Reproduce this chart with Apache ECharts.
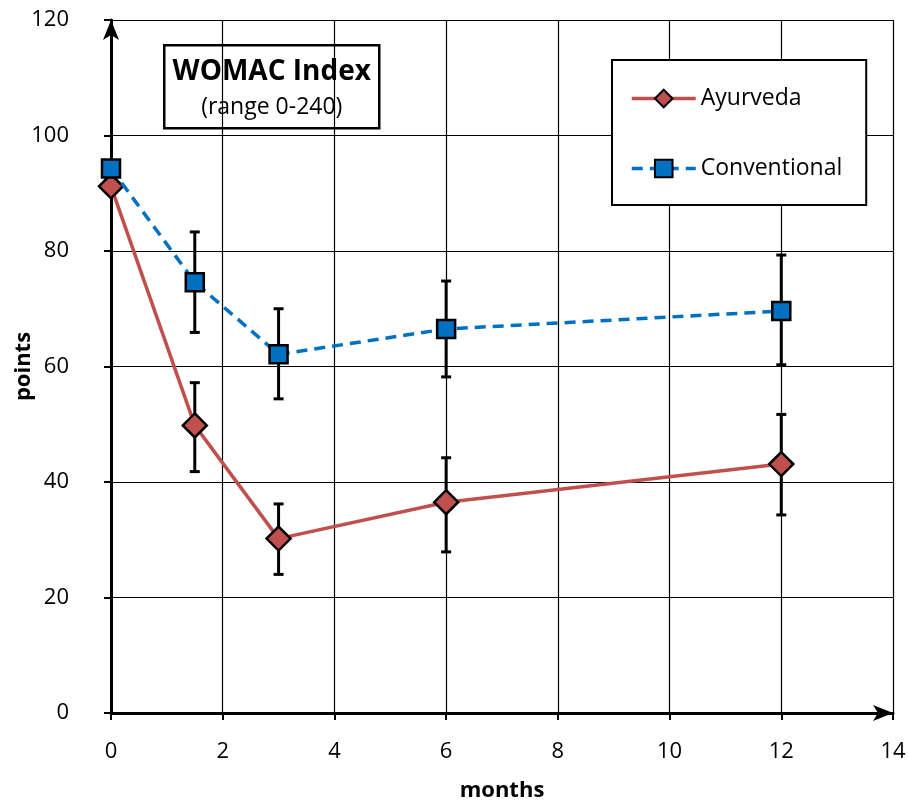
<!DOCTYPE html>
<html>
<head>
<meta charset="utf-8">
<script src="https://cdn.jsdelivr.net/npm/echarts@6/dist/echarts.min.js"></script>
<style>
html,body{margin:0;padding:0;background:#fff;}
#chart{width:908px;height:802px;}
</style>
</head>
<body>
<div id="chart"></div>
<script>
const months = [0, 1.5, 3, 6, 12];
const ayurveda = [91.2, 49.8, 30.2, 36.5, 43.1];
const ayurvedaLow = [null, 41.8, 24.0, 27.9, 34.3];
const ayurvedaHigh = [null, 57.2, 36.2, 44.2, 51.7];
const conventional = [94.3, 74.6, 62.1, 66.5, 69.6];
const conventionalLow = [null, 65.9, 54.4, 58.2, 60.3];
const conventionalHigh = [null, 83.3, 70.0, 74.8, 79.3];
const xTicks = [0, 2, 4, 6, 8, 10, 12, 14];
const yTicks = [0, 20, 40, 60, 80, 100, 120];
const seriesNames = ['Ayurveda', 'Conventional'];
const titleLines = ['WOMAC Index', '(range 0-240)'];

const FONT = "'Open Sans', sans-serif";

function pairs(xs, ys) { return xs.map((x, i) => [x, ys[i]]); }
function errData(xs, lo, hi) {
  const out = [];
  xs.forEach((x, i) => { if (lo[i] != null) out.push([x, lo[i], hi[i]]); });
  return out;
}
function renderErr(params, api) {
  const x = api.value(0), lo = api.value(1), hi = api.value(2);
  const a = api.coord([x, lo]), b = api.coord([x, hi]);
  const w = 5;
  const st = { stroke: '#000', lineWidth: 3 };
  return {
    type: 'group',
    children: [
      { type: 'line', shape: { x1: a[0], y1: a[1], x2: b[0], y2: b[1] }, style: st },
      { type: 'line', shape: { x1: a[0] - w, y1: a[1], x2: a[0] + w, y2: a[1] }, style: st },
      { type: 'line', shape: { x1: b[0] - w, y1: b[1], x2: b[0] + w, y2: b[1] }, style: st }
    ]
  };
}

const chart = echarts.init(document.getElementById('chart'));
chart.setOption({
  animation: false,
  backgroundColor: '#fff',
  textStyle: { fontFamily: FONT },
  grid: { left: 111, right: 15, top: 20, bottom: 89, containLabel: false, outerBoundsMode: 'none' },
  xAxis: {
    type: 'value', min: xTicks[0], max: xTicks[xTicks.length - 1], interval: 2,
    name: 'months', nameLocation: 'middle', nameGap: 67, nameMoveOverlap: false,
    nameTextStyle: { fontFamily: FONT, fontSize: 22, fontWeight: 'bold', color: '#000' },
    axisLine: { onZero: false, lineStyle: { color: '#000', width: 3 }, symbol: ['none', 'arrow'], symbolSize: [12, 20] },
    axisTick: { show: true, inside: false, length: 7, lineStyle: { color: '#000', width: 2 } },
    axisLabel: { margin: 28, fontFamily: FONT, fontSize: 22, color: '#000' },
    splitLine: { show: true, lineStyle: { color: '#000', width: 1.2 } }
  },
  yAxis: {
    type: 'value', min: yTicks[0], max: yTicks[yTicks.length - 1], interval: 20,
    name: 'points', nameLocation: 'middle', nameGap: 76, nameMoveOverlap: false,
    nameTextStyle: { fontFamily: FONT, fontSize: 22, fontWeight: 'bold', color: '#000' },
    axisLine: { onZero: false, lineStyle: { color: '#000', width: 3 }, symbol: ['none', 'arrow'], symbolSize: [12, 20] },
    axisTick: { show: true, inside: false, length: 7, lineStyle: { color: '#000', width: 2 } },
    axisLabel: { margin: 42, fontFamily: FONT, fontSize: 22, color: '#000' },
    splitLine: { show: true, lineStyle: { color: '#000', width: 1.2 } }
  },
  legend: {
    orient: 'vertical',
    left: 612, top: 60,
    padding: [27, 24, 25, 18],
    itemGap: 47,
    itemWidth: 64, itemHeight: 22,
    backgroundColor: '#fff',
    borderColor: '#000', borderWidth: 2,
    lineStyle: { width: 3.5 },
    textStyle: { fontFamily: FONT, fontSize: 23, color: '#000' },
    data: seriesNames
  },
  series: [
    {
      type: 'custom', name: 'errA', renderItem: renderErr, z: 2,
      data: errData(months, ayurvedaLow, ayurvedaHigh), encode: { x: 0, y: [1, 2] }, silent: true
    },
    {
      type: 'custom', name: 'errC', renderItem: renderErr, z: 2,
      data: errData(months, conventionalLow, conventionalHigh), encode: { x: 0, y: [1, 2] }, silent: true
    },
    {
      type: 'line', name: seriesNames[0], z: 3,
      data: pairs(months, ayurveda),
      symbol: 'diamond', symbolSize: 24,
      lineStyle: { color: '#C0504D', width: 3.5 },
      itemStyle: { color: '#C0504D', borderColor: '#000', borderWidth: 2.5 }
    },
    {
      type: 'line', name: seriesNames[1], z: 4,
      data: pairs(months, conventional),
      symbol: 'rect', symbolSize: 18,
      lineStyle: { color: '#0070C0', width: 3.5, type: [11, 7] },
      itemStyle: { color: '#0070C0', borderColor: '#000', borderWidth: 2.5 }
    }
  ],
  graphic: [
    {
      type: 'group', left: 163, top: 44, z: 10,
      children: [
        { type: 'rect', shape: { x: 0, y: 0, width: 215, height: 83 }, style: { fill: '#fff', stroke: '#000', lineWidth: 2.5 } },
        { type: 'text', x: 107.5, y: 27, style: { text: titleLines[0], fontFamily: FONT, fontSize: 28, fontWeight: 'bold', fill: '#000', align: 'center', verticalAlign: 'middle' } },
        { type: 'text', x: 107.5, y: 62, style: { text: titleLines[1], fontFamily: FONT, fontSize: 23, fill: '#000', align: 'center', verticalAlign: 'middle' } }
      ]
    }
  ]
});
</script>
</body>
</html>
